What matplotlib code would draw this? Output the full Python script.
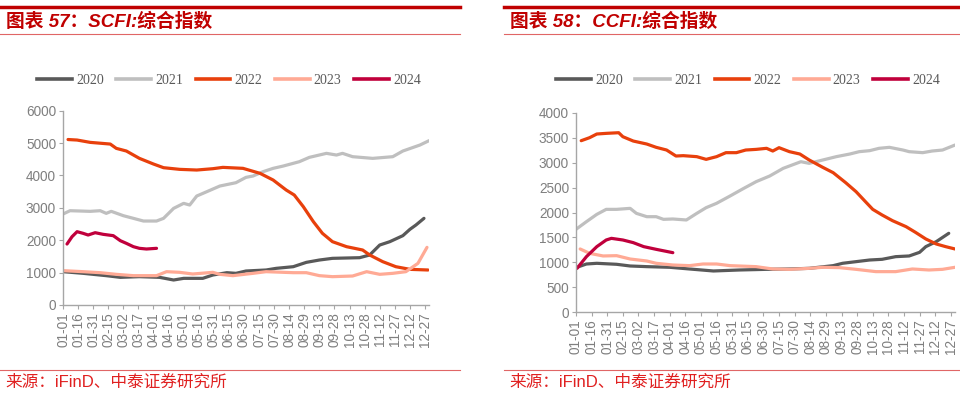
import matplotlib
matplotlib.use("Agg")
import matplotlib.pyplot as plt
from matplotlib.lines import Line2D

# 横轴：一年中的第几天（0 = 01-01），刻度每 15 天一个
tick_days = list(range(0, 361, 15))
tick_labels = ['01-01', '01-16', '01-31', '02-15', '03-02', '03-17', '04-01', '04-16',
               '05-01', '05-16', '05-31', '06-15', '06-30', '07-15', '07-30', '08-14',
               '08-29', '09-13', '09-28', '10-13', '10-28', '11-12', '11-27', '12-12', '12-27']

years = ['2020', '2021', '2022', '2023', '2024']
colors = ['#595959', '#BFBFBF', '#E8400C', '#FFAA95', '#C0003C']

# SCFI 综合指数
scfi_days_2020 = [0, 20, 43, 57, 76, 96, 110, 120, 139, 149, 163, 172, 182, 202, 212, 229, 242, 255,
                  268, 295, 305, 315, 325, 338, 345, 351, 359]
scfi_2020 = [1029, 978, 906, 854, 875, 854, 772, 823, 823, 926, 998, 978, 1050, 1081, 1132, 1183, 1317, 1389,
             1441, 1461, 1544, 1852, 1955, 2141, 2336, 2470, 2676]
scfi_days_2021 = [0, 7, 27, 37, 43, 48, 60, 70, 80, 93, 100, 110, 120, 126, 133, 143, 156, 172, 182, 189,
                  199, 209, 219, 235, 245, 262, 272, 278, 288, 308, 328, 338, 355, 364]
scfi_2021 = [2809, 2912, 2892, 2912, 2830, 2892, 2758, 2676, 2593, 2593, 2676, 2984, 3139, 3087, 3365, 3499,
             3674, 3777, 3942, 3983, 4117, 4220, 4291, 4425, 4559, 4683, 4631, 4683, 4580, 4528, 4580, 4755,
             4940, 5074]
scfi_days_2022 = [5, 14, 27, 47, 53, 63, 76, 90, 100, 116, 133, 149, 159, 179, 196, 209, 222, 230, 239, 249,
                  258, 268, 282, 298, 305, 318, 331, 345, 363]
scfi_2022 = [5110, 5094, 5022, 4970, 4837, 4755, 4528, 4353, 4240, 4189, 4168, 4209, 4250, 4220, 4065, 3859,
             3550, 3396, 3036, 2573, 2213, 1955, 1801, 1698, 1544, 1338, 1183, 1101, 1081]
scfi_days_2023 = [0, 20, 37, 53, 70, 93, 103, 116, 129, 149, 156, 169, 189, 202, 229, 242, 255, 268, 288,
                  302, 315, 328, 341, 353, 362]
scfi_2023 = [1061, 1029, 998, 947, 906, 906, 1029, 1009, 957, 1009, 947, 906, 978, 1029, 998, 998, 906, 875,
             895, 1029, 947, 978, 1029, 1286, 1780]
scfi_days_2024 = [4, 9, 14, 20, 25, 32, 40, 50, 57, 63, 70, 76, 83, 93]
scfi_2024 = [1883, 2110, 2264, 2213, 2161, 2233, 2182, 2141, 1986, 1904, 1801, 1750, 1729, 1750]

# CCFI 综合指数
ccfi_days_2020 = [0, 10, 20, 39, 52, 68, 90, 109, 132, 157, 183, 205, 224, 247, 256, 269, 282, 294, 307,
                  320, 330, 336, 346, 358]
ccfi_2020 = [895, 968, 982, 962, 928, 915, 902, 868, 828, 848, 861, 868, 881, 935, 982, 1015, 1048, 1062,
             1115, 1129, 1202, 1316, 1416, 1583]
ccfi_days_2021 = [0, 10, 20, 29, 39, 52, 58, 68, 77, 84, 93, 106, 116, 125, 135, 148, 160, 173, 186, 199,
                  216, 224, 237, 250, 263, 272, 282, 291, 301, 314, 320, 333, 342, 352, 364]
ccfi_2021 = [1663, 1816, 1963, 2063, 2063, 2083, 1983, 1916, 1916, 1863, 1870, 1850, 1983, 2097, 2184, 2331,
             2471, 2618, 2731, 2885, 3018, 2985, 3052, 3119, 3172, 3219, 3239, 3286, 3306, 3252, 3219, 3199,
             3232, 3252, 3352]
ccfi_days_2022 = [5, 13, 20, 29, 41, 45, 55, 68, 77, 87, 96, 103, 116, 125, 135, 144, 154, 163, 173, 183,
                  189, 195, 205, 215, 224, 237, 247, 259, 269, 278, 285, 294, 304, 317, 326, 336, 346, 355, 364]
ccfi_2022 = [3439, 3499, 3573, 3586, 3599, 3519, 3432, 3372, 3306, 3252, 3132, 3139, 3119, 3065, 3119, 3199,
             3199, 3252, 3265, 3286, 3232, 3299, 3219, 3172, 3052, 2905, 2798, 2598, 2417, 2217, 2063, 1950,
             1836, 1716, 1603, 1469, 1369, 1316, 1269]
ccfi_days_2023 = [4, 13, 26, 39, 52, 68, 77, 93, 109, 122, 135, 148, 173, 189, 205, 224, 237, 253, 269, 288,
                  307, 323, 339, 352, 364]
ccfi_2023 = [1269, 1182, 1129, 1135, 1068, 1028, 982, 948, 935, 968, 968, 935, 915, 868, 861, 881, 902, 895,
             861, 815, 815, 868, 848, 861, 902]
ccfi_days_2024 = [1, 10, 20, 29, 34, 45, 55, 65, 77, 93]
ccfi_2024 = [881, 1115, 1316, 1449, 1482, 1449, 1396, 1316, 1262, 1195]

W, H = 960, 395
fig = plt.figure(figsize=(9.6, 3.95), dpi=100)
cjk = ['Liberation Sans', 'Noto Sans CJK SC', 'DejaVu Sans']


def hline(x0, x1, y, lw, color):
    fig.add_artist(Line2D([x0 / W, x1 / W], [1 - y / H, 1 - y / H], transform=fig.transFigure,
                          color=color, lw=lw))


def panel(rect, series, ymax, ystep, title, x_left, x_right, legend_x):
    ax = fig.add_axes(rect)
    for (days, vals), c in zip(series, colors):
        ax.plot(days, vals, color=c, lw=2.3, solid_capstyle='round')
    ax.set_xlim(0, 364)
    ax.set_ylim(0, ymax)
    ax.set_yticks(range(0, ymax + 1, ystep))
    ax.set_xticks(tick_days)
    ax.set_xticklabels(tick_labels, rotation=90)
    for s in ['top', 'right']:
        ax.spines[s].set_visible(False)
    for s in ['left', 'bottom']:
        ax.spines[s].set_color('#A6A6A6')
        ax.spines[s].set_linewidth(1.0)
    ax.tick_params(axis='both', colors='#A6A6A6', labelcolor='#7F7F7F', labelsize=9.8, length=3, pad=2)
    for lab in ax.get_xticklabels() + ax.get_yticklabels():
        lab.set_family('Liberation Sans')

    # 标题与分隔线
    hline(x_left, x_right, 7, 2.5, '#C00000')
    hline(x_left, x_right, 34, 0.8, '#E06666')
    hline(x_left, x_right, 370, 0.8, '#E06666')
    fig.text((x_left + 6) / W, 1 - 22 / H, title, color='#C00000', fontsize=13.5, fontweight='bold',
             fontstyle='italic', family=cjk, va='center', ha='left')
    fig.text((x_left + 5) / W, 1 - 382 / H, '来源：iFinD、中泰证券研究所', color='#E02020', fontsize=12,
             family=cjk, va='center', ha='left')

    handles = [Line2D([0], [0], color=c, lw=2.6) for c in colors]
    leg = fig.legend(handles, years, loc='center', bbox_to_anchor=(legend_x / W, 1 - 80 / H), ncol=5,
                     frameon=False, handlelength=2.5, handletextpad=0.3, columnspacing=0.9,
                     prop={'family': 'Liberation Serif', 'size': 10})
    for t in leg.get_texts():
        t.set_color('#595959')
    return ax


panel([63 / W, 1 - 305 / H, (429 - 63) / W, (305 - 110.7) / H],
      [(scfi_days_2020, scfi_2020), (scfi_days_2021, scfi_2021), (scfi_days_2022, scfi_2022),
       (scfi_days_2023, scfi_2023), (scfi_days_2024, scfi_2024)],
      6000, 1000, '图表 57：SCFI:综合指数', 0, 460, 229)

panel([576 / W, 1 - 312.3 / H, (955 - 576) / W, (312.3 - 112.7) / H],
      [(ccfi_days_2020, ccfi_2020), (ccfi_days_2021, ccfi_2021), (ccfi_days_2022, ccfi_2022),
       (ccfi_days_2023, ccfi_2023), (ccfi_days_2024, ccfi_2024)],
      4000, 500, '图表 58：CCFI:综合指数', 504, 960, 748)

fig.savefig('out.png', dpi=100)
